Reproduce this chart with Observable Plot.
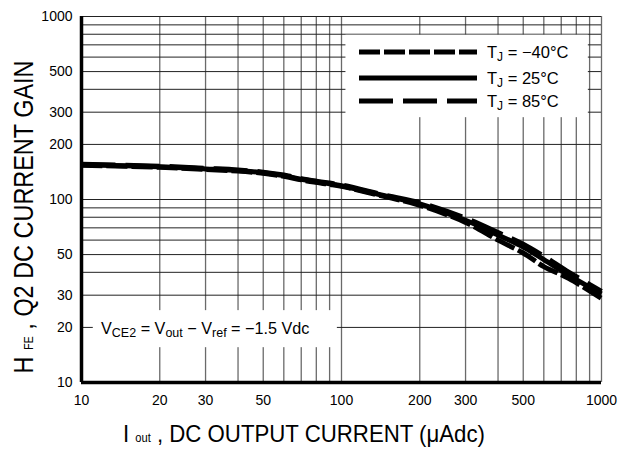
<!DOCTYPE html>
<html><head><meta charset="utf-8">
<script src="https://cdn.jsdelivr.net/npm/d3@7"></script>
<script src="https://cdn.jsdelivr.net/npm/@observablehq/plot@0.6"></script>
<style>
body{margin:0;background:#fff;}
#chart{width:619px;height:450px;}
</style></head><body><div id="chart"></div>
<script>
// ---- data ----
const current = [10, 20, 30, 40, 50, 60, 70, 80, 90, 100, 150, 200, 300, 400, 500, 600, 750, 1000];
const gainM40 = [154, 150, 146, 143, 139, 134, 128, 124, 121, 118, 103, 93, 75, 60, 51, 43, 37, 28.8];
const gain25  = [155, 151, 147, 144, 140, 135, 129, 125, 122, 119, 104, 94.5, 77, 64, 55, 47, 38.5, 30.5];
const gain85  = [156, 152, 148, 145, 141, 136, 130, 126, 123, 120, 105, 96, 79, 66, 57, 49, 40, 31.5];
const seriesLabels = ["−40°C", "25°C", "85°C"];
const xTicks = [10, 20, 30, 50, 100, 200, 300, 500, 1000];
const yTicks = [10, 20, 30, 50, 100, 200, 300, 500, 1000];
const xGrid = [20, 30, 40, 50, 60, 70, 80, 90, 100, 200, 300, 400, 500, 600, 700, 800, 900, 1000];
const yGrid = [20, 30, 40, 50, 60, 70, 80, 90, 100, 200, 300, 400, 500, 600, 700, 800, 900, 1000];

const font = "'Liberation Sans', Arial, Helvetica, sans-serif";
const dashes = ["21,4", null, "34,10"];
const tables = [gainM40, gain25, gain85].map(g => current.map((c, i) => ({c, g: g[i]})));

const chart = Plot.plot({
  width: 619, height: 450,
  marginTop: 16, marginBottom: 68, marginLeft: 81, marginRight: 18,
  style: {fontFamily: font, fontSize: "14px", background: "#fff", color: "#000", overflow: "visible"},
  x: {type: "log", domain: [10, 1000], ticks: xTicks, tickFormat: d => String(d), tickSize: 0, tickPadding: 13, label: null},
  y: {type: "log", domain: [10, 1000], ticks: yTicks, tickFormat: d => String(d), tickSize: 0, tickPadding: 9, label: null},
  marks: [
    Plot.ruleX(xGrid, {stroke: "#6a6a6a", strokeWidth: 1.3}),
    Plot.ruleY(yGrid, {stroke: "#222", strokeWidth: 1}),
    // white boxes behind legend and annotation (data units)
    Plot.rect([{x1: 104, x2: 890, y1: 280, y2: 790}, {x1: 11.1, x2: 96.4, y1: 15.5, y2: 24.7}],
      {x1: "x1", x2: "x2", y1: "y1", y2: "y2", fill: "#fff"}),
    ...tables.map((t, i) => Plot.line(t, {x: "c", y: "g", stroke: "#000", strokeWidth: 5,
      strokeDasharray: dashes[i], curve: "catmull-rom", strokeLinecap: "butt"})),
    Plot.ruleX([10], {stroke: "#000", strokeWidth: 3.5}),
    Plot.ruleY([10], {stroke: "#000", strokeWidth: 3.5})
  ]
});
document.getElementById("chart").appendChild(chart);

const svg = d3.select(chart);
const g = svg.append("g").attr("font-family", font).attr("fill", "#000").attr("text-anchor", "start");

// legend
const rowsY = [52, 78, 101];
seriesLabels.forEach((lab, i) => {
  g.append("line").attr("x1", 359).attr("x2", 477).attr("y1", rowsY[i]).attr("y2", rowsY[i])
    .attr("stroke", "#000").attr("stroke-width", 5).attr("stroke-dasharray", dashes[i]);
  const t = g.append("text").attr("text-anchor", "start").attr("x", 487).attr("y", rowsY[i] + 6).attr("font-size", 16.5);
  t.append("tspan").text("T");
  t.append("tspan").attr("font-size", 12).attr("dy", 3).text("J");
  t.append("tspan").attr("dy", -3).text(" = " + lab);
});

// annotation
{
  const t = g.append("text").attr("text-anchor", "start").attr("x", 101).attr("y", 334).attr("font-size", 16.2);
  t.append("tspan").text("V");
  t.append("tspan").attr("font-size", 12.5).attr("dy", 3).text("CE2");
  t.append("tspan").attr("dy", -3).text(" = V");
  t.append("tspan").attr("font-size", 12.5).attr("dy", 3).text("out");
  t.append("tspan").attr("dy", -3).text(" − V");
  t.append("tspan").attr("font-size", 12.5).attr("dy", 3).text("ref");
  t.append("tspan").attr("dy", -3).text(" = −1.5 Vdc");
}

// x axis title
{
  const t = g.append("text").attr("x", 304).attr("y", 442).attr("font-size", 24)
    .attr("text-anchor", "middle").attr("textLength", 362).attr("lengthAdjust", "spacingAndGlyphs");
  t.append("tspan").text("I ");
  t.append("tspan").attr("font-size", 12).text("out");
  t.append("tspan").text(" , DC OUTPUT CURRENT (μAdc)");
}
// y axis title
{
  const t = g.append("text").attr("transform", "translate(33,217) rotate(-90)").attr("font-size", 28)
    .attr("text-anchor", "middle").attr("textLength", 313).attr("lengthAdjust", "spacingAndGlyphs");
  t.append("tspan").text("H ");
  t.append("tspan").attr("font-size", 13).text("FE");
  t.append("tspan").text(" , Q2 DC CURRENT GAIN");
}
</script></body></html>
